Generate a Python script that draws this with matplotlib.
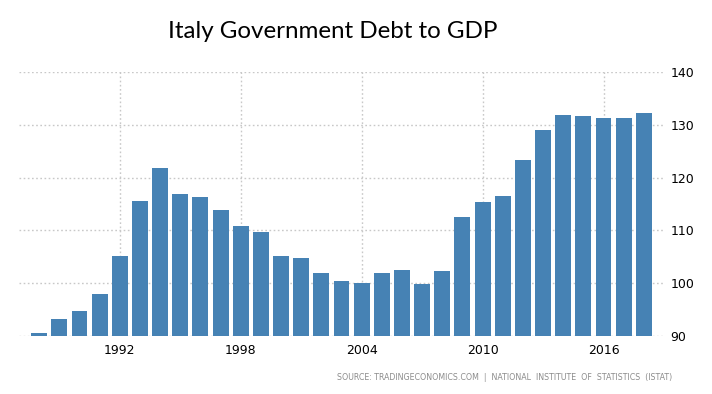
import numpy as np
import matplotlib.pyplot as plt

years = np.arange(1988, 2019)
debt = [90.6, 93.2, 94.7, 98.0, 105.1, 115.6, 121.8, 116.9, 116.3, 113.9,
        110.8, 109.7, 105.1, 104.7, 101.9, 100.5, 100.1, 101.9, 102.6, 99.8,
        102.4, 112.5, 115.4, 116.5, 123.3, 129.0, 131.8, 131.6, 131.4, 131.4,
        132.2]
xticks = [1992, 1998, 2004, 2010, 2016]
yticks = [90, 100, 110, 120, 130, 140]

fig = plt.figure(figsize=(7.12, 3.94), dpi=100)
ax = fig.add_axes([0.0267, 0.147, 0.907, 0.670])

ax.bar(years, np.array(debt) - 90, bottom=90, width=0.79, color='#4682b4', zorder=2)

ax.set_xlim(1987, 2019.04)
ax.set_ylim(90, 140)
ax.set_xticks(xticks)
ax.set_yticks(yticks)
ax.yaxis.tick_right()
ax.tick_params(length=0, labelsize=9, pad=6)
ax.tick_params(axis='y', pad=4)
ax.grid(True, color='#c8c8c8', linestyle=(0, (1.2, 1.8)), linewidth=1, zorder=0)
for s in ax.spines.values():
    s.set_visible(False)

fig.text(0.467, 0.92, 'Italy Government Debt to GDP', ha='center', va='center',
         fontsize=17.4, family='Lato')
fig.text(0.944, 0.043, 'SOURCE: TRADINGECONOMICS.COM  |  NATIONAL  INSTITUTE  OF  STATISTICS  (ISTAT)',
         ha='right', va='center', fontsize=5.65, color='#8c8c8c')

fig.savefig('out.png', dpi=100)
